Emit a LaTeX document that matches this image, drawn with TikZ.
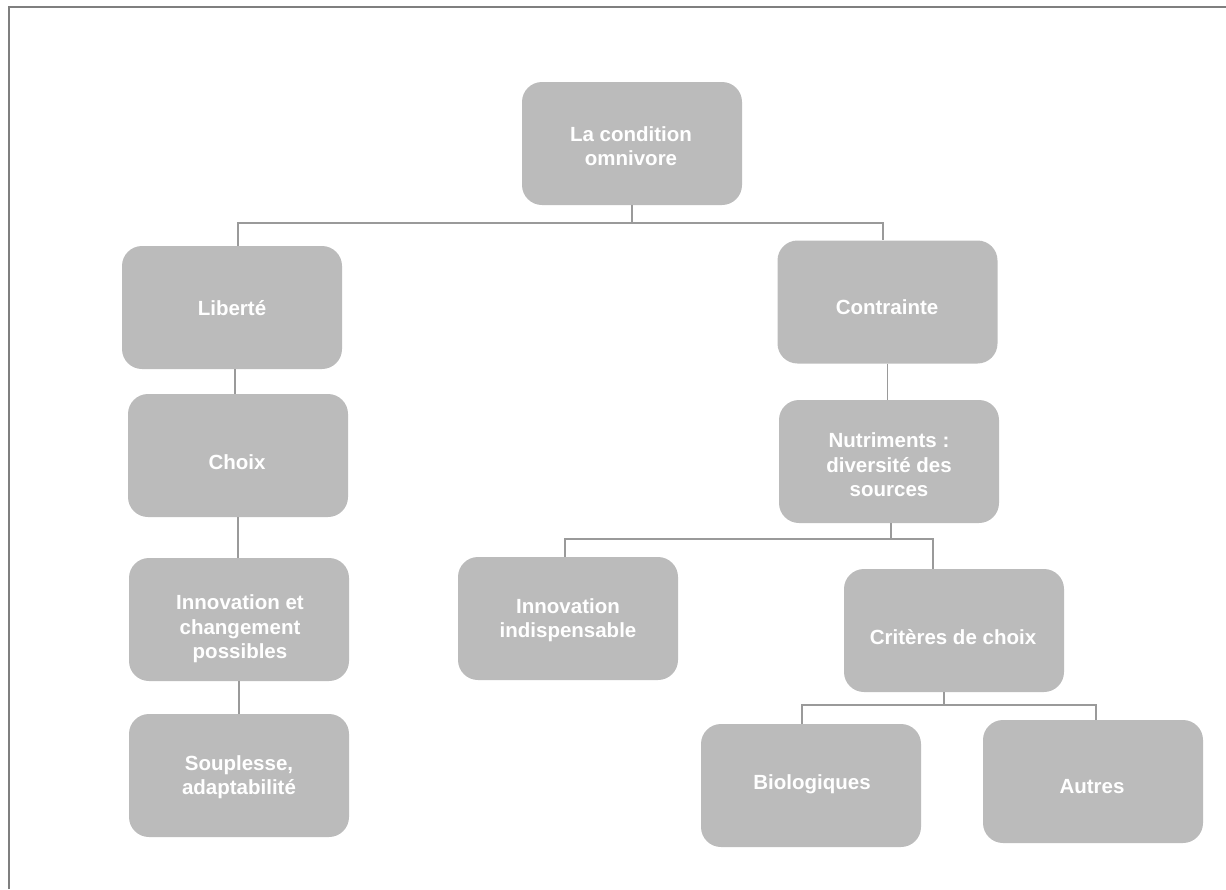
\documentclass[tikz,border=0pt]{standalone}
\usepackage{fontspec}
\setmainfont{Liberation Sans}
\definecolor{boxgray}{HTML}{BBBBBB}
\definecolor{linegray}{HTML}{9A9A9A}
\definecolor{framegray}{HTML}{7F7F7F}
\begin{document}
\begin{tikzpicture}[x=1pt,y=-1pt,
  box/.style={fill=boxgray, draw=none, rounded corners=20pt, minimum width=220pt, minimum height=123pt, inner sep=0pt},
  lbl/.style={text=white, font=\bfseries\fontsize{20.5}{24.5}\selectfont, align=center, inner sep=0pt},
  conn/.style={draw=linegray, line width=1.5pt}]
\useasboundingbox (0,0) rectangle (1226,889);
\draw[framegray, line width=2.2pt] (9,889) -- (9,7) -- (1226,7);

% boxes
\node[box] (root)   at (632,143.5) {};
\node[box] (lib)    at (232,307.5) {};
\node[box] (choix)  at (238,455.5) {};
\node[box] (innov)  at (239,619.5) {};
\node[box] (soup)   at (239,775.5) {};
\node[box] (contr)  at (887.5,302) {};
\node[box] (nutr)   at (889,461.5) {};
\node[box] (indisp) at (568,618.5) {};
\node[box] (crit)   at (954,630.5) {};
\node[box] (bio)    at (811,785.5) {};
\node[box] (autres) at (1093,781.5) {};

% labels
\node[lbl] (troot)   at (631,146) {La condition\\omnivore};
\node[lbl] (tlib)    at (232,308) {Liberté};
\node[lbl] (tchoix)  at (237,462) {Choix};
\node[lbl] (tinnov)  at (240,629) {Innovation et\\changement\\possibles};
\node[lbl] (tsoup)   at (239,777) {Souplesse,\\adaptabilité};
\node[lbl] (tcontr)  at (887,307) {Contrainte};
\node[lbl] (tnutr)   at (889,465) {Nutriments :\\diversité des\\sources};
\node[lbl] (tindisp) at (568,620) {Innovation\\indispensable};
\node[lbl] (tcrit)   at (953,637) {Critères de choix};
\node[lbl] (tbio)    at (812,784) {Biologiques};
\node[lbl] (tautres) at (1092,787) {Autres};

% connectors
\draw[conn] (root.south) -- ++(0,18) coordinate (r1);
\draw[conn] ([xshift=6pt]lib.north) |- (r1) -| ([xshift=-4.5pt]contr.north);
\draw[conn] ([xshift=3pt]lib.south) -- ([xshift=3pt]lib.south |- choix.north);
\draw[conn] (choix.south) -- (choix.south |- innov.north);
\draw[conn] (innov.south) -- (soup.north);
\draw[conn] (contr.south) -- (contr.south |- nutr.north);
\draw[conn] ([xshift=2pt]nutr.south) -- ++(0,16) coordinate (n1);
\draw[conn] ([xshift=-3pt]indisp.north) |- (n1) -| ([xshift=-21pt]crit.north);
\draw[conn] ([xshift=-10pt]crit.south) -- ++(0,13) coordinate (c1);
\draw[conn] ([xshift=-9pt]bio.north) |- (c1) -| ([xshift=3pt]autres.north);
\end{tikzpicture}
\end{document}
